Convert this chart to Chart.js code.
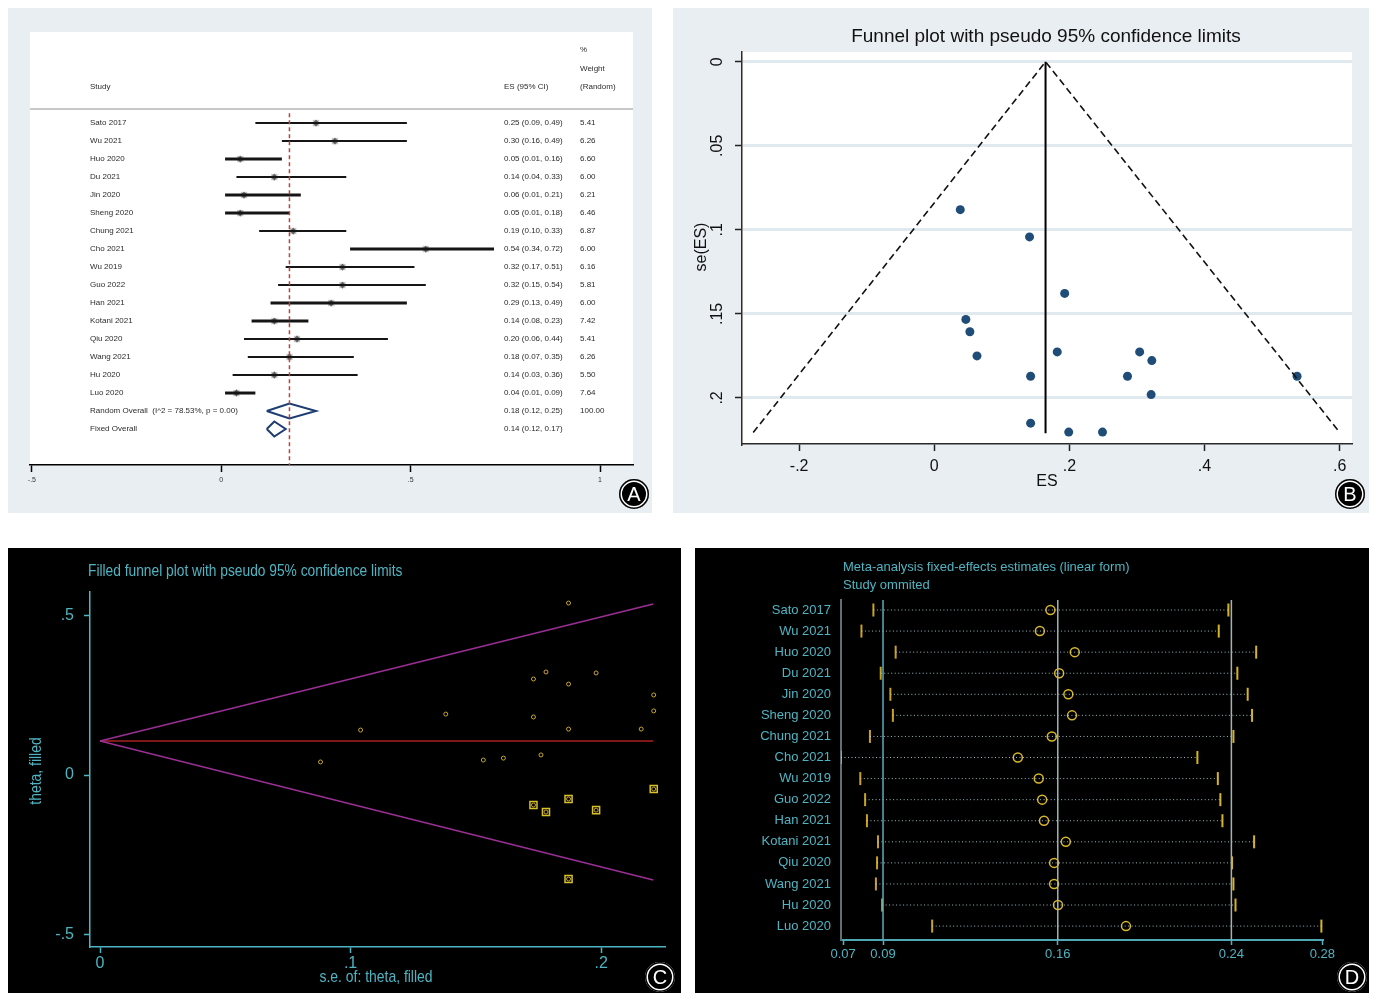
<!DOCTYPE html>
<html>
<head>
<meta charset="utf-8">
<script src="https://cdn.jsdelivr.net/npm/chart.js@4.4.1/dist/chart.umd.min.js"></script>
<style>
  body { margin: 0; width: 1375px; height: 994px; background: #fff; position: relative; overflow: hidden;
         font-family: "Liberation Sans", Arial, sans-serif; }
  canvas { position: absolute; display: block; }
  #cA { left: 8px; top: 8px; background: #e8eef2; }
  #cB { left: 673px; top: 8px; background: #e8eef2; }
  #cC { left: 8px; top: 548px; background: #000; }
  #cD { left: 695px; top: 548px; background: #000; }
  .tag { position: absolute; width: 30px; height: 30px; border-radius: 50%; background: #000; color: #fff;
         font: 20px "Liberation Sans", Arial, sans-serif; display: flex; align-items: center; justify-content: center;
         box-shadow: inset 0 0 0 1.5px #000, inset 0 0 0 3px #fff; }
</style>
</head>
<body>
<canvas id="cA" width="644" height="505"></canvas>
<canvas id="cB" width="696" height="505"></canvas>
<canvas id="cC" width="673" height="445"></canvas>
<canvas id="cD" width="674" height="445"></canvas>
<div class="tag" style="left:619px;top:479px">A</div>
<div class="tag" style="left:1335px;top:479px">B</div>
<div class="tag" style="left:645px;top:962px">C</div>
<div class="tag" style="left:1337px;top:962px">D</div>
<script>
// --- data -------------------------------------------------------------

// A: forest plot
const studies = ['Sato 2017', 'Wu 2021', 'Huo 2020', 'Du 2021', 'Jin 2020', 'Sheng 2020', 'Chung 2021', 'Cho 2021',
                 'Wu 2019', 'Guo 2022', 'Han 2021', 'Kotani 2021', 'Qiu 2020', 'Wang 2021', 'Hu 2020', 'Luo 2020'];
const esA  = [0.25, 0.30, 0.05, 0.14, 0.06, 0.05, 0.19, 0.54, 0.32, 0.32, 0.29, 0.14, 0.20, 0.18, 0.14, 0.04];
const loA  = [0.09, 0.16, 0.01, 0.04, 0.01, 0.01, 0.10, 0.34, 0.17, 0.15, 0.13, 0.08, 0.06, 0.07, 0.03, 0.01];
const hiA  = [0.49, 0.49, 0.16, 0.33, 0.21, 0.18, 0.33, 0.72, 0.51, 0.54, 0.49, 0.23, 0.44, 0.35, 0.36, 0.09];
const weightA = ['5.41', '6.26', '6.60', '6.00', '6.21', '6.46', '6.87', '6.00', '6.16', '5.81', '6.00', '7.42',
                 '5.41', '6.26', '5.50', '7.64'];
const randomOverall = [0.18, 0.12, 0.25];   // es, lo, hi
const fixedOverall  = [0.14, 0.12, 0.17];
const randomLabel = 'Random Overall  (I^2 = 78.53%, p = 0.00)';
const forestTickVals = [-0.5, 0, 0.5, 1];
const forestTickLabels = ['-.5', '0', '.5', '1'];

// B: funnel plot
const funnelES = [0.0385, 0.141, 0.193, 0.0467, 0.0527, 0.0632, 0.182, 0.1426, 0.1426, 0.199, 0.249, 0.304,
                  0.322, 0.286, 0.321, 0.537];
const funnelSE = [0.088, 0.1042, 0.1378, 0.1533, 0.1606, 0.175, 0.1726, 0.1871, 0.215, 0.2203, 0.2203, 0.1726,
                  0.1778, 0.1871, 0.198, 0.1871];
const funnelApex = [0.1647, 0];
const funnelLeftEnd = [-0.268, 0.2206];
const funnelRightEnd = [0.599, 0.2200];
const funnelMidEnd = [0.1647, 0.221];
const esAxisVals = [-0.2, 0, 0.2, 0.4, 0.6];
const esAxisLabels = ['-.2', '0', '.2', '.4', '.6'];
const seAxisVals = [0, 0.05, 0.1, 0.15, 0.2];
const seAxisLabels = ['0', '.05', '.1', '.15', '.2'];

// C: filled funnel plot (trim and fill)
const seObserved    = [0.187, 0.173, 0.178, 0.198, 0.187, 0.221, 0.221, 0.138, 0.173, 0.104, 0.187, 0.216,
                       0.088, 0.153, 0.161, 0.176];
const thetaObserved = [0.539, 0.301, 0.323, 0.320, 0.285, 0.251, 0.201, 0.191, 0.182, 0.141, 0.144, 0.144,
                       0.041, 0.047, 0.053, 0.063];
const seImputed    = [0.221, 0.187, 0.173, 0.178, 0.198, 0.187];
const thetaImputed = [-0.044, -0.075, -0.094, -0.116, -0.110, -0.326];
const filledCentre = 0.1066;
const filledMaxSE = 0.2208;
const filledUpperEnd = 0.536;
const filledLowerEnd = -0.329;
const thetaAxisVals = [0.5, 0, -0.5];
const thetaAxisLabels = ['.5', '0', '-.5'];
const seFilledAxisVals = [0, 0.1, 0.2];
const seFilledAxisLabels = ['0', '.1', '.2'];

// D: influence analysis (study omitted)
const infLower = [0.0832, 0.0780, 0.0929, 0.0864, 0.0906, 0.0917, 0.0817, 0.0691, 0.0775, 0.0796, 0.0804, 0.0852,
                  0.0848, 0.0843, 0.0870, 0.1088];
const infEst   = [0.1603, 0.1557, 0.1709, 0.1641, 0.1681, 0.1697, 0.1609, 0.1461, 0.1552, 0.1567, 0.1575, 0.1670,
                  0.1619, 0.1619, 0.1636, 0.1932];
const infUpper = [0.2378, 0.2336, 0.2499, 0.2417, 0.2462, 0.2481, 0.2400, 0.2243, 0.2332, 0.2343, 0.2352, 0.2490,
                  0.2394, 0.2400, 0.2409, 0.2783];
const infRef = [0.0874, 0.1635, 0.2391];
const infTickVals = [0.0700, 0.0874, 0.1635, 0.2391, 0.2787];
const infTickLabels = ['0.07', '0.09', '0.16', '0.24', '0.28'];

// --- helpers ----------------------------------------------------------

const SANS = '"Liberation Sans", Arial, sans-serif';
const TEAL = '#4fb4c2';
Chart.defaults.font.family = SANS;

const fixedTicks = vals => s => { s.ticks = vals.map(v => ({ value: v })); };
const fixH = h => s => { s.height = h; };
const fixW = w => s => { s.width = w; };
const seg = (x1, y1, x2, y2) => [{ x: x1, y: y1 }, { x: x2, y: y2 }];
const baseOpts = (padding) => ({
  responsive: false,
  animation: false,
  events: [],
  layout: { padding },
  plugins: { legend: { display: false }, tooltip: { enabled: false } },
});
const whiteArea = {
  id: 'whiteArea',
  beforeDraw(chart) {
    const { ctx, chartArea: a } = chart;
    ctx.save();
    ctx.fillStyle = '#fff';
    ctx.fillRect(a.left, a.top, a.right - a.left, a.bottom - a.top);
    ctx.restore();
  },
};
// the Stata graphs in C use a condensed face; squeeze the text horizontally
function narrowText(ctx, text, x, y, squeeze) {
  ctx.save();
  ctx.translate(x, y);
  ctx.scale(squeeze, 1);
  ctx.fillText(text, 0, 0);
  ctx.restore();
}

// --- A: forest plot ---------------------------------------------------

const thickA = ['Huo 2020', 'Jin 2020', 'Sheng 2020', 'Cho 2021', 'Han 2021', 'Kotani 2021', 'Luo 2020'];
const rowRandom = studies.length, rowFixed = studies.length + 1;
const diamond = (p, row) => [
  { x: p[1], y: row }, { x: p[0], y: row - 0.42 }, { x: p[2], y: row }, { x: p[0], y: row + 0.42 }, { x: p[1], y: row },
];

const dsA = [];
dsA.push({ data: seg(randomOverall[0], -0.55, randomOverall[0], 19), showLine: true, borderColor: '#b8453a',
           borderWidth: 1.5, borderDash: [4, 3], pointRadius: 0 });
studies.forEach((s, i) => dsA.push({
  data: seg(loA[i], i, hiA[i], i), showLine: true, borderColor: '#151515',
  borderWidth: thickA.includes(s) ? 3 : 2, pointRadius: 0,
}));
dsA.push({ data: esA.map((v, i) => ({ x: v, y: i })), pointStyle: 'rect', pointRadius: 4.5,
           backgroundColor: 'rgba(160,160,160,0.6)', borderWidth: 0 });
dsA.push({ data: esA.map((v, i) => ({ x: v, y: i })), pointStyle: 'rectRot', pointRadius: 3.4,
           backgroundColor: '#000', borderWidth: 0 });
dsA.push({ data: diamond(randomOverall, rowRandom), showLine: true, borderColor: '#1d3c72', borderWidth: 2, pointRadius: 0 });
dsA.push({ data: diamond(fixedOverall, rowFixed), showLine: true, borderColor: '#1d3c72', borderWidth: 2, pointRadius: 0 });

const forestText = {
  id: 'forestText',
  beforeDatasetsDraw(chart) {
    const { ctx, chartArea: a, scales: { y } } = chart;
    ctx.save();
    ctx.strokeStyle = '#c8c8c8';
    ctx.lineWidth = 2;
    const yy = y.getPixelForValue(-0.78);
    ctx.beginPath(); ctx.moveTo(a.left, yy); ctx.lineTo(a.right, yy); ctx.stroke();
    ctx.restore();
  },
  afterDraw(chart) {
    const { ctx, scales: { y } } = chart;
    const colStudy = 82, colES = 496, colW = 572;
    const f2 = v => v.toFixed(2);
    ctx.save();
    ctx.font = '8px ' + SANS;
    ctx.fillStyle = '#2b2b2b';
    ctx.textBaseline = 'middle';
    ctx.fillText('Study', colStudy, y.getPixelForValue(-2));
    ctx.fillText('ES (95% CI)', colES, y.getPixelForValue(-2));
    ctx.fillText('%', colW, y.getPixelForValue(-4.06));
    ctx.fillText('Weight', colW, y.getPixelForValue(-3));
    ctx.fillText('(Random)', colW, y.getPixelForValue(-2));
    studies.forEach((s, i) => {
      const py = y.getPixelForValue(i);
      ctx.fillText(s, colStudy, py);
      ctx.fillText(`${f2(esA[i])} (${f2(loA[i])}, ${f2(hiA[i])})`, colES, py);
      ctx.fillText(weightA[i], colW, py);
    });
    const pr = y.getPixelForValue(rowRandom), pf = y.getPixelForValue(rowFixed);
    ctx.fillText(randomLabel, colStudy, pr);
    ctx.fillText(`${f2(randomOverall[0])} (${f2(randomOverall[1])}, ${f2(randomOverall[2])})`, colES, pr);
    ctx.fillText('100.00', colW, pr);
    ctx.fillText('Fixed Overall', colStudy, pf);
    ctx.fillText(`${f2(fixedOverall[0])} (${f2(fixedOverall[1])}, ${f2(fixedOverall[2])})`, colES, pf);
    ctx.restore();
  },
};

new Chart(document.getElementById('cA'), {
  type: 'scatter',
  data: { datasets: dsA },
  options: {
    ...baseOpts({ left: 22, top: 24, right: 19, bottom: 18 }),
    scales: {
      x: {
        type: 'linear', min: -0.505, max: 1.087,
        afterBuildTicks: fixedTicks(forestTickVals), afterFit: fixH(30),
        ticks: { callback: (v, i) => forestTickLabels[i], autoSkip: false, maxRotation: 0,
                 font: { size: 7 }, color: '#333', padding: 4 },
        grid: { drawOnChartArea: false, tickLength: 7, tickColor: '#000', tickWidth: 1.5 },
        border: { color: '#000', width: 1.5 },
      },
      y: { type: 'linear', display: false, reverse: true, min: -5.06, max: 19 },
    },
  },
  plugins: [whiteArea, forestText],
});

// --- B: funnel plot ---------------------------------------------------

const funnelText = {
  id: 'funnelText',
  afterDraw(chart) {
    const { ctx, chartArea: a, scales: { y } } = chart;
    ctx.save();
    ctx.fillStyle = '#111';
    ctx.textAlign = 'center';
    ctx.textBaseline = 'middle';
    ctx.font = '19px ' + SANS;
    ctx.fillText('Funnel plot with pseudo 95% confidence limits', 373, 29);
    ctx.font = '16px ' + SANS;
    ctx.fillText('ES', (a.left + a.right) / 2, 474);
    seAxisVals.forEach((v, i) => {
      ctx.save();
      ctx.translate(45, y.getPixelForValue(v));
      ctx.rotate(-Math.PI / 2);
      ctx.fillText(seAxisLabels[i], 0, 0);
      ctx.restore();
    });
    ctx.translate(29, 239);
    ctx.rotate(-Math.PI / 2);
    ctx.fillText('se(ES)', 0, 0);
    ctx.restore();
  },
};

new Chart(document.getElementById('cB'), {
  type: 'scatter',
  data: {
    datasets: [
      { data: [{ x: funnelLeftEnd[0], y: funnelLeftEnd[1] }, { x: funnelApex[0], y: funnelApex[1] },
               { x: funnelRightEnd[0], y: funnelRightEnd[1] }],
        showLine: true, borderColor: '#111', borderWidth: 1.6, borderDash: [7, 4], pointRadius: 0 },
      { data: seg(funnelApex[0], funnelApex[1], funnelMidEnd[0], funnelMidEnd[1]),
        showLine: true, borderColor: '#000', borderWidth: 2, pointRadius: 0 },
      { data: funnelES.map((v, i) => ({ x: v, y: funnelSE[i] })), pointRadius: 4.5,
        backgroundColor: '#1f4d78', borderWidth: 0 },
    ],
  },
  options: {
    ...baseOpts({ left: 59, top: 44, right: 17, bottom: 29 }),
    scales: {
      x: {
        type: 'linear', min: -0.2846, max: 0.6183,
        afterBuildTicks: fixedTicks(esAxisVals), afterFit: fixH(40),
        ticks: { callback: (v, i) => esAxisLabels[i], autoSkip: false, maxRotation: 0,
                 font: { size: 16 }, color: '#111', padding: 6 },
        grid: { drawOnChartArea: false, tickLength: 7, tickColor: '#222', tickWidth: 1.5 },
        border: { color: '#2a2a2a', width: 1.5 },
      },
      y: {
        type: 'linear', reverse: true, min: -0.0058, max: 0.2274,
        afterBuildTicks: fixedTicks(seAxisVals), afterFit: fixW(10),
        ticks: { display: false },
        grid: { color: '#e0e9ee', lineWidth: 3, tickColor: '#222', tickLength: 7, tickWidth: 1.5 },
        border: { color: '#3b2620', width: 1.5 },
      },
    },
  },
  plugins: [whiteArea, funnelText],
});

// --- C: filled funnel plot --------------------------------------------

const filledText = {
  id: 'filledText',
  afterDraw(chart) {
    const { ctx } = chart;
    ctx.save();
    ctx.fillStyle = TEAL;
    ctx.textBaseline = 'middle';
    ctx.font = '16px ' + SANS;
    ctx.textAlign = 'left';
    narrowText(ctx, 'Filled funnel plot with pseudo 95% confidence limits', 80, 24, 0.86);
    ctx.textAlign = 'center';
    ctx.font = '17px ' + SANS;
    narrowText(ctx, 's.e. of: theta, filled', 368, 429, 0.82);
    ctx.translate(28, 223);
    ctx.rotate(-Math.PI / 2);
    narrowText(ctx, 'theta, filled', 0, 0, 0.82);
    ctx.restore();
  },
};

new Chart(document.getElementById('cC'), {
  type: 'scatter',
  data: {
    datasets: [
      { data: seg(0, filledCentre, filledMaxSE, filledUpperEnd), showLine: true, borderColor: '#9a2f94',
        borderWidth: 1.5, pointRadius: 0 },
      { data: seg(0, filledCentre, filledMaxSE, filledLowerEnd), showLine: true, borderColor: '#9a2f94',
        borderWidth: 1.5, pointRadius: 0 },
      { data: seg(0, filledCentre, filledMaxSE, filledCentre), showLine: true, borderColor: '#a82222',
        borderWidth: 1.5, pointRadius: 0 },
      { data: seObserved.map((v, i) => ({ x: v, y: thetaObserved[i] })), pointRadius: 2,
        borderColor: '#c9a630', backgroundColor: 'rgba(0,0,0,0)', borderWidth: 1 },
      { data: seImputed.map((v, i) => ({ x: v, y: thetaImputed[i] })), pointStyle: 'rect', pointRadius: 5,
        borderColor: '#d8c126', backgroundColor: 'rgba(0,0,0,0)', borderWidth: 1.5 },
      { data: seImputed.map((v, i) => ({ x: v, y: thetaImputed[i] })), pointRadius: 2,
        borderColor: '#c9a630', backgroundColor: 'rgba(0,0,0,0)', borderWidth: 1 },
    ],
  },
  options: {
    ...baseOpts({ left: 2, top: 44, right: 16, bottom: 6 }),
    scales: {
      x: {
        type: 'linear', min: -0.004, max: 0.2255,
        afterBuildTicks: fixedTicks(seFilledAxisVals), afterFit: fixH(40),
        ticks: { callback: (v, i) => seFilledAxisLabels[i], autoSkip: false, maxRotation: 0,
                 font: { size: 16 }, color: TEAL, padding: 1 },
        grid: { drawOnChartArea: false, tickLength: 6, tickColor: TEAL, tickWidth: 1.5 },
        border: { color: TEAL, width: 1.5 },
      },
      y: {
        type: 'linear', min: -0.539, max: 0.5737,
        afterBuildTicks: fixedTicks(thetaAxisVals), afterFit: fixW(80),
        ticks: { callback: (v, i) => thetaAxisLabels[i], font: { size: 16 }, color: TEAL, padding: 10 },
        grid: { drawOnChartArea: false, tickLength: 6, tickColor: TEAL, tickWidth: 1.5 },
        border: { color: TEAL, width: 1.5 },
      },
    },
  },
  plugins: [filledText],
});

// --- D: leave-one-out influence ---------------------------------------

const rowTop = -0.475, rowBottom = 15.66;
const dsD = [];
infRef.forEach((v, i) => dsD.push({
  data: seg(v, rowTop, v, rowBottom), showLine: true, borderColor: i === 0 ? '#5aaebd' : '#a3b3b3',
  borderWidth: 1.5, pointRadius: 0,
}));
studies.forEach((s, i) => dsD.push({
  data: seg(infLower[i], i, infUpper[i], i), showLine: true, borderColor: 'rgba(185,220,225,0.85)',
  borderWidth: 1, borderDash: [1, 2.5], pointRadius: 0,
}));
dsD.push({ data: infLower.map((v, i) => ({ x: v, y: i })), pointStyle: 'line', rotation: 90, pointRadius: 6.5,
           borderColor: '#c9a222', borderWidth: 2 });
dsD.push({ data: infUpper.map((v, i) => ({ x: v, y: i })), pointStyle: 'line', rotation: 90, pointRadius: 6.5,
           borderColor: '#d6b522', borderWidth: 2 });
dsD.push({ data: infEst.map((v, i) => ({ x: v, y: i })), pointRadius: 4.5, borderColor: '#d9b92a',
           backgroundColor: 'rgba(0,0,0,0)', borderWidth: 1.5 });

const infText = {
  id: 'infText',
  afterDraw(chart) {
    const { ctx } = chart;
    ctx.save();
    ctx.fillStyle = TEAL;
    ctx.textBaseline = 'middle';
    ctx.font = '13px ' + SANS;
    ctx.fillText('Meta-analysis fixed-effects estimates (linear form)', 148, 19);
    ctx.fillText('Study ommited', 148, 37);
    ctx.restore();
  },
};

new Chart(document.getElementById('cD'), {
  type: 'scatter',
  data: { datasets: dsD },
  options: {
    ...baseOpts({ left: 6, top: 52, right: 46, bottom: 13 }),
    scales: {
      x: {
        type: 'linear', min: 0.0691, max: 0.279,
        afterBuildTicks: fixedTicks(infTickVals), afterFit: fixH(40),
        ticks: { callback: (v, i) => infTickLabels[i], autoSkip: false, maxRotation: 0,
                 font: { size: 13 }, color: TEAL, padding: 2 },
        grid: { drawOnChartArea: false, tickLength: 5, tickColor: TEAL, tickWidth: 1.5 },
        border: { color: '#4fa6b4', width: 2 },
      },
      y: {
        type: 'linear', reverse: true, min: rowTop, max: rowBottom,
        afterBuildTicks: fixedTicks(studies.map((_, i) => i)), afterFit: fixW(140),
        ticks: { callback: (v, i) => studies[i], autoSkip: false, font: { size: 13 }, color: TEAL, padding: 10 },
        grid: { drawOnChartArea: false, drawTicks: false },
        border: { color: '#5f7070', width: 2 },
      },
    },
  },
  plugins: [infText],
});
</script>
</body>
</html>
